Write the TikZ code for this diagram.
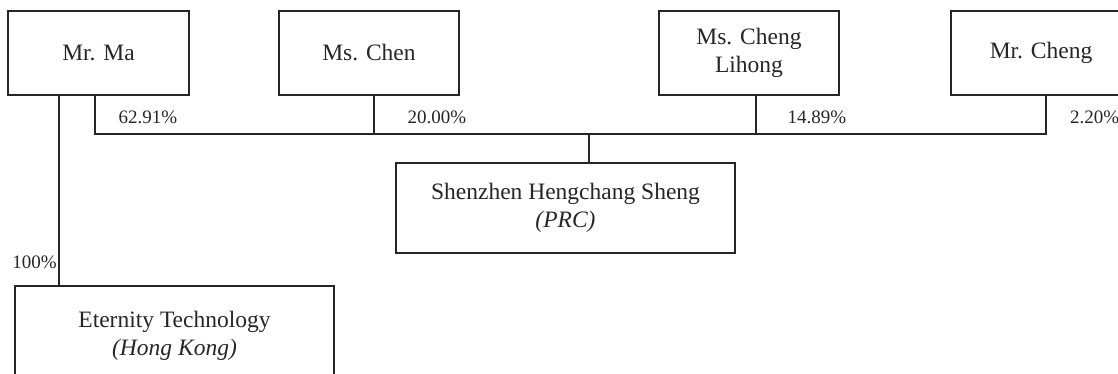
\documentclass[tikz,border=0pt]{standalone}
\usepackage{fontspec}
\setmainfont{Liberation Serif}
\begin{document}
\begin{tikzpicture}[x=1pt,y=-1pt,
  box/.style={draw=black!85,line width=1.3pt,inner sep=0pt,align=center,
    font=\fontsize{23.5}{28}\selectfont,text=black!85},
  pct/.style={inner sep=0pt,font=\fontsize{19}{21}\selectfont,text=black!85},
  conn/.style={draw=black!85,line width=1.3pt}]
\useasboundingbox (0,0) rectangle (1118,374);
\clip (0,0) rectangle (1118,374);
\node[box,minimum width=181pt,minimum height=84pt] (ma) at (98.5,53) {Mr. Ma};
\node[box,minimum width=180pt,minimum height=84pt] (chen) at (369,53) {Ms. Chen};
\node[box,minimum width=180pt,minimum height=84pt] (cl) at (749,53) {Ms. Cheng\\Lihong};
\node[box,minimum width=180pt,minimum height=84pt] (mc) at (1041,53) {Mr. Cheng};
\node[box,minimum width=339pt,minimum height=90pt] (shz) at (565.5,208) {Shenzhen Hengchang Sheng\\\textit{(PRC)}};
\node[box,minimum width=319pt,minimum height=100pt] (et) at (174.5,336) {Eternity Technology\\\textit{(Hong Kong)}};
\coordinate (t1) at (95,134);
\coordinate (t2) at (374,134);
\coordinate (t3) at (756,134);
\coordinate (t4) at (1046,134);
\coordinate (j) at (589,134);
\coordinate (e) at (59,200);
\draw[conn] (ma.south -| t1) -- (t1) -- (t4) -- (mc.south -| t4);
\draw[conn] (chen.south -| t2) -- (t2);
\draw[conn] (cl.south -| t3) -- (t3);
\draw[conn] (j) -- (shz.north -| j);
\draw[conn] (ma.south -| e) -- (et.north -| e);
\node[pct] (p1) at (148,117) {62.91\%};
\node[pct] (p2) at (437,117) {20.00\%};
\node[pct] (p3) at (817,117) {14.89\%};
\node[pct,anchor=west] (p4) at (1070,117) {2.20\%};
\node[pct,anchor=east] (p5) at (57,262) {100\%};
\end{tikzpicture}
\end{document}
